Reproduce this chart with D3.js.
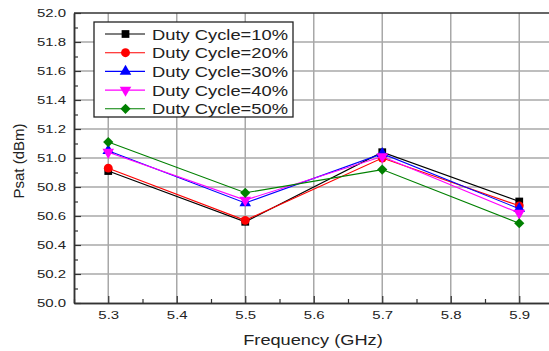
<!DOCTYPE html>
<html>
<head>
<meta charset="utf-8">
<script src="https://cdn.jsdelivr.net/npm/d3@7"></script>
<style>
  html, body { margin: 0; padding: 0; background: #fff; }
  svg { display: block; }
  text { font-family: Arial, "Liberation Sans", sans-serif; fill: #222; }
</style>
</head>
<body>
<svg id="chart" width="549" height="351"></svg>
<script>
// Saturated output power versus frequency for several duty cycles
const frequencies = [5.3, 5.5, 5.7, 5.9];
const seriesNames = ["Duty Cycle=10%", "Duty Cycle=20%", "Duty Cycle=30%", "Duty Cycle=40%", "Duty Cycle=50%"];
const duty10 = [50.91, 50.56, 51.04, 50.70];
const duty20 = [50.93, 50.57, 51.00, 50.67];
const duty30 = [51.05, 50.69, 51.03, 50.65];
const duty40 = [51.04, 50.71, 51.01, 50.62];
const duty50 = [51.11, 50.76, 50.92, 50.55];
const xTicks = [5.3, 5.4, 5.5, 5.6, 5.7, 5.8, 5.9];
const yTicks = [50.0, 50.2, 50.4, 50.6, 50.8, 51.0, 51.2, 51.4, 51.6, 51.8, 52.0];

const seriesValues = [duty10, duty20, duty30, duty40, duty50];
const colors = ["#000000", "#ff0000", "#0000ff", "#ff00ff", "#008000"];
const symbols = ["square", "circle", "triUp", "triDown", "diamond"];

const svg = d3.select("#chart");
const plot = { left: 74, top: 13, right: 553.5, bottom: 303 };

const x = d3.scaleLinear().domain([5.25, 5.95]).range([plot.left, plot.right]);
const y = d3.scaleLinear().domain([50.0, 52.0]).range([plot.bottom, plot.top]);

// horizontally widened lettering
const STRETCH = 1.3;
function widen(sel, factor = STRETCH) {
  sel.each(function () {
    const len = this.getComputedTextLength();
    d3.select(this).attr("textLength", len * factor).attr("lengthAdjust", "spacingAndGlyphs");
  });
}

// grid
const grid = svg.append("g");
grid.selectAll("line.vx").data(xTicks).join("line")
  .attr("x1", d => x(d)).attr("x2", d => x(d))
  .attr("y1", plot.top).attr("y2", plot.bottom)
  .attr("stroke", "#a8a8a8").attr("stroke-width", 1.5);
grid.selectAll("line.hy").data(yTicks.slice(1, -1)).join("line")
  .attr("x1", plot.left).attr("x2", plot.right)
  .attr("y1", d => y(d)).attr("y2", d => y(d))
  .attr("stroke", "#a8a8a8").attr("stroke-width", 1.5);

// axes with inward ticks
const yAxis = d3.axisLeft(y).tickValues(yTicks).tickFormat(d3.format(".1f")).tickSizeInner(-7).tickSizeOuter(0).tickPadding(14);
const yMinor = d3.axisLeft(y).tickValues(d3.range(50.1, 52.0, 0.2)).tickFormat("").tickSizeInner(-4).tickSizeOuter(0);
const xAxis = d3.axisBottom(x).tickValues(xTicks).tickFormat(d3.format(".1f")).tickSizeInner(-7).tickSizeOuter(0).tickPadding(14);
const xMinor = d3.axisBottom(x).tickValues(d3.range(5.25, 5.96, 0.1)).tickFormat("").tickSizeInner(-4).tickSizeOuter(0);

function styleAxis(g) {
  g.select(".domain").attr("stroke", "#333").attr("stroke-width", 1.5);
  g.selectAll(".tick line").attr("stroke", "#333").attr("stroke-width", 1.2);
  g.selectAll(".tick text").attr("font-size", 11.5).attr("fill", "#222")
    .style("font-family", "Arial, 'Liberation Sans', sans-serif");
}

svg.append("g").attr("transform", `translate(${plot.left},0)`).call(yMinor).call(styleAxis);
const gy = svg.append("g").attr("transform", `translate(${plot.left},0)`).call(yAxis).call(styleAxis);
svg.append("g").attr("transform", `translate(0,${plot.bottom})`).call(xMinor).call(styleAxis);
const gx = svg.append("g").attr("transform", `translate(0,${plot.bottom})`).call(xAxis).call(styleAxis);
gy.selectAll(".tick text").attr("x", -8).call(widen);
gx.selectAll(".tick text").attr("y", 8).call(widen);

// top frame line
svg.append("line").attr("x1", plot.left).attr("x2", plot.right)
  .attr("y1", plot.top).attr("y2", plot.top).attr("stroke", "#333").attr("stroke-width", 1.5);

// marker shapes
const symbolDefs = {
  square:  { type: d3.symbolSquare,   size: 60, rot: 0 },
  circle:  { type: d3.symbolCircle,   size: 62, rot: 0 },
  triUp:   { type: d3.symbolTriangle, size: 58, rot: 0 },
  triDown: { type: d3.symbolTriangle, size: 58, rot: 180 },
  diamond: { type: d3.symbolSquare,   size: 52, rot: 45 }
};
function markerPath(name) {
  const s = symbolDefs[name];
  return d3.symbol().type(s.type).size(s.size)();
}
function markerTransform(name, px, py) {
  const r = symbolDefs[name].rot;
  return r ? `translate(${px},${py}) rotate(${r})` : `translate(${px},${py})`;
}

// series
const line = d3.line().x((d, i) => x(frequencies[i])).y(d => y(d));
seriesValues.forEach((vals, s) => {
  const g = svg.append("g");
  g.append("path").datum(vals).attr("d", line)
    .attr("fill", "none").attr("stroke", colors[s]).attr("stroke-width", 1.1);
  g.selectAll("path.m").data(vals).join("path").attr("class", "m")
    .attr("d", markerPath(symbols[s]))
    .attr("transform", (d, i) => markerTransform(symbols[s], x(frequencies[i]), y(d)))
    .attr("fill", colors[s]);
});

// legend
const legend = svg.append("g");
legend.append("rect").attr("x", 94).attr("y", 22).attr("width", 199).attr("height", 95)
  .attr("fill", "#fff").attr("stroke", "#222").attr("stroke-width", 1.3);
seriesNames.forEach((name, s) => {
  const ry = 34 + s * 18.7;
  legend.append("line").attr("x1", 105).attr("x2", 145).attr("y1", ry).attr("y2", ry)
    .attr("stroke", colors[s]).attr("stroke-width", 1.1);
  legend.append("path").attr("d", markerPath(symbols[s]))
    .attr("transform", markerTransform(symbols[s], 125.5, ry)).attr("fill", colors[s]);
  legend.append("text").attr("x", 152).attr("y", ry + 5.5).attr("font-size", 15.5)
    .attr("textLength", 136).attr("lengthAdjust", "spacingAndGlyphs")
    .text(name);
});

// axis titles
svg.append("text").attr("x", 313).attr("y", 345).attr("text-anchor", "middle")
  .attr("font-size", 14).text("Frequency (GHz)").call(widen);
svg.append("text").attr("transform", "translate(24,161) rotate(-90)").attr("text-anchor", "middle")
  .attr("font-size", 15).text("Psat (dBm)");
</script>
</body>
</html>
